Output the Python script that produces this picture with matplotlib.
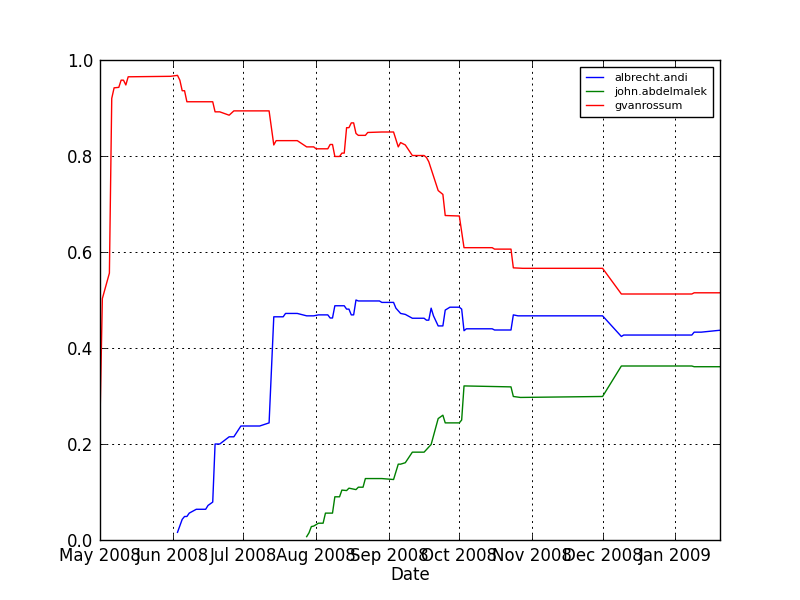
import numpy as np
import matplotlib
matplotlib.use("Agg")
import matplotlib.pyplot as plt
import matplotlib.dates as mdates

# share of contributions per committer over time
andi_dates = ["2008-06-03", "2008-06-05", "2008-06-06", "2008-06-07", "2008-06-08", "2008-06-11",
              "2008-06-15", "2008-06-16", "2008-06-18", "2008-06-19", "2008-06-21", "2008-06-25",
              "2008-06-27", "2008-06-30", "2008-07-08", "2008-07-12", "2008-07-14", "2008-07-18",
              "2008-07-19", "2008-07-24", "2008-07-28", "2008-07-31", "2008-08-02", "2008-08-06",
              "2008-08-07", "2008-08-08", "2008-08-09", "2008-08-13", "2008-08-14", "2008-08-15",
              "2008-08-16", "2008-08-17", "2008-08-18", "2008-08-19", "2008-08-28", "2008-08-29",
              "2008-09-03", "2008-09-04", "2008-09-06", "2008-09-08", "2008-09-11", "2008-09-16",
              "2008-09-17", "2008-09-18", "2008-09-19", "2008-09-20", "2008-09-22", "2008-09-24",
              "2008-09-25", "2008-09-27", "2008-10-01", "2008-10-02", "2008-10-03", "2008-10-04",
              "2008-10-15", "2008-10-16", "2008-10-23", "2008-10-24", "2008-10-26", "2008-12-01",
              "2008-12-09", "2008-12-10", "2009-01-08", "2009-01-09", "2009-01-12", "2009-01-20"]
andi_share = [0.016, 0.043, 0.049, 0.049, 0.056, 0.064,
              0.064, 0.072, 0.079, 0.200, 0.200, 0.215,
              0.215, 0.2375, 0.2375, 0.244, 0.465, 0.465,
              0.472, 0.472, 0.467, 0.467, 0.469, 0.469,
              0.4625, 0.4625, 0.488, 0.488, 0.481, 0.481,
              0.469, 0.469, 0.500, 0.498, 0.498, 0.495,
              0.495, 0.483, 0.472, 0.470, 0.462, 0.462,
              0.458, 0.458, 0.483, 0.467, 0.446, 0.446,
              0.479, 0.485, 0.485, 0.481, 0.436, 0.440,
              0.440, 0.4375, 0.4375, 0.469, 0.467, 0.467,
              0.424, 0.427, 0.427, 0.433, 0.433, 0.437]

john_dates = ["2008-07-28", "2008-07-29", "2008-07-30", "2008-07-31", "2008-08-02", "2008-08-04",
              "2008-08-05", "2008-08-08", "2008-08-09", "2008-08-11", "2008-08-12", "2008-08-14",
              "2008-08-15", "2008-08-18", "2008-08-19", "2008-08-21", "2008-08-22", "2008-08-29",
              "2008-09-03", "2008-09-05", "2008-09-06", "2008-09-08", "2008-09-11", "2008-09-16",
              "2008-09-19", "2008-09-22", "2008-09-24", "2008-09-25", "2008-10-01", "2008-10-02",
              "2008-10-03", "2008-10-23", "2008-10-24", "2008-10-27", "2008-12-01", "2008-12-09",
              "2009-01-08", "2009-01-09", "2009-01-20"]
john_share = [0.007, 0.015, 0.028, 0.029, 0.035, 0.035,
              0.056, 0.056, 0.090, 0.090, 0.104, 0.103,
              0.108, 0.105, 0.110, 0.110, 0.128, 0.128,
              0.126, 0.158, 0.158, 0.161, 0.183, 0.183,
              0.199, 0.253, 0.260, 0.244, 0.244, 0.250,
              0.321, 0.319, 0.299, 0.297, 0.299, 0.3625,
              0.3625, 0.361, 0.361]

guido_dates = ["2008-05-01", "2008-05-02", "2008-05-05", "2008-05-06", "2008-05-07", "2008-05-09",
               "2008-05-10", "2008-05-11", "2008-05-12", "2008-05-13", "2008-05-31", "2008-06-03",
               "2008-06-04", "2008-06-05", "2008-06-06", "2008-06-07", "2008-06-18", "2008-06-19",
               "2008-06-21", "2008-06-25", "2008-06-27", "2008-07-12", "2008-07-14", "2008-07-15",
               "2008-07-24", "2008-07-28", "2008-07-31", "2008-08-01", "2008-08-06", "2008-08-07",
               "2008-08-08", "2008-08-09", "2008-08-11", "2008-08-12", "2008-08-13", "2008-08-14",
               "2008-08-15", "2008-08-16", "2008-08-17", "2008-08-18", "2008-08-19", "2008-08-22",
               "2008-08-23", "2008-08-29", "2008-09-03", "2008-09-05", "2008-09-06", "2008-09-08",
               "2008-09-11", "2008-09-16", "2008-09-17", "2008-09-18", "2008-09-22", "2008-09-24",
               "2008-09-25", "2008-10-01", "2008-10-03", "2008-10-15", "2008-10-16", "2008-10-23",
               "2008-10-24", "2008-10-28", "2008-12-01", "2008-12-09", "2009-01-08", "2009-01-09",
               "2009-01-20"]
guido_share = [0.25, 0.503, 0.556, 0.920, 0.942, 0.943,
               0.958, 0.958, 0.948, 0.965, 0.966, 0.968,
               0.958, 0.936, 0.936, 0.913, 0.913, 0.892,
               0.892, 0.885, 0.894, 0.894, 0.823, 0.832,
               0.832, 0.819, 0.819, 0.815, 0.815, 0.824,
               0.824, 0.799, 0.799, 0.806, 0.806, 0.859,
               0.859, 0.869, 0.869, 0.847, 0.843, 0.843,
               0.849, 0.850, 0.850, 0.819, 0.828, 0.823,
               0.801, 0.801, 0.797, 0.788, 0.728, 0.720,
               0.676, 0.675, 0.609, 0.609, 0.606, 0.606,
               0.567, 0.566, 0.566, 0.5125, 0.5125, 0.515,
               0.515]

names = ["albrecht.andi", "john.abdelmalek", "gvanrossum"]
colors = ["b", "g", "r"]
series = [(andi_dates, andi_share), (john_dates, john_share), (guido_dates, guido_share)]

fig = plt.figure(figsize=(8, 6), dpi=100)
ax = fig.add_axes([0.125, 0.1, 0.775, 0.8])

all_dates = []
for name, color, (d, v) in zip(names, colors, series):
    d = np.array(d, dtype="datetime64[D]")
    all_dates.extend(d)
    ax.plot(d, v, color=color, linewidth=1.0, label=name)

ax.set_xlim(min(all_dates), max(all_dates))
ax.set_ylim(0, 1)
ax.set_yticks(np.arange(0, 1.01, 0.2))
ax.yaxis.set_major_formatter(plt.FormatStrFormatter("%.1f"))
ax.xaxis.set_major_locator(mdates.MonthLocator())
ax.xaxis.set_major_formatter(mdates.DateFormatter("%b %Y"))

ax.tick_params(direction="in", top=True, right=True, length=4, width=0.6,
               labelsize=12, pad=5)
ax.grid(True, color="k", linestyle=(0, (2, 4)), linewidth=0.7)
for s in ax.spines.values():
    s.set_linewidth(1.0)

ax.set_xlabel("Date", fontsize=12, labelpad=0.5)

leg = ax.legend(loc="upper right", fontsize=8, fancybox=False, framealpha=1,
                edgecolor="k", handlelength=1.5, handletextpad=1.05,
                borderpad=0.55, borderaxespad=0.6, labelspacing=0.35)
leg.get_frame().set_linewidth(1.0)

fig.savefig("out.png", dpi=100, facecolor="white")
